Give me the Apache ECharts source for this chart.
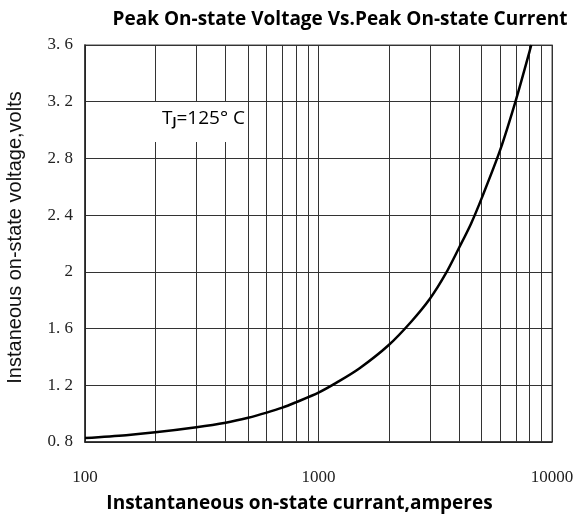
<!DOCTYPE html>
<html>
<head>
<meta charset="utf-8">
<script src="https://cdn.jsdelivr.net/npm/echarts@6/dist/echarts.min.js"></script>
<style>
  html, body { margin: 0; padding: 0; background: #fff; }
  #chart { width: 579px; height: 517px; }
</style>
</head>
<body>
<div id="chart"></div>
<script>
// current (A) vs peak on-state voltage (V)
const current = [100, 150, 200, 300, 400, 500, 600, 700, 800, 1000, 1200, 1500, 2000, 2500, 3000, 3500, 4000, 4500, 5000, 6000, 7000, 8000, 8150]
const voltage = [0.828, 0.848, 0.868, 0.904, 0.936, 0.971, 1.007, 1.042, 1.08, 1.148, 1.22, 1.32, 1.484, 1.65, 1.81, 1.985, 2.17, 2.34, 2.52, 2.86, 3.21, 3.55, 3.6]
// minor vertical grid lines of the log axis
const minorX = [200, 300, 400, 500, 600, 700, 800, 900, 2000, 3000, 4000, 5000, 6000, 7000, 8000, 9000]
const yTicks = [0.8, 1.2, 1.6, 2, 2.4, 2.8, 3.2, 3.6]

const chart = echarts.init(document.getElementById('chart'))

const points = current.map((c, i) => [c, voltage[i]])

chart.setOption({
  animation: false,
  title: {
    text: 'Peak On-state Voltage Vs.Peak On-state Current',
    left: 335,
    textAlign: 'center',
    top: 5,
    textStyle: {fontFamily: 'Open Sans', fontSize: 19, fontWeight: 'bold', color: '#000'}
  },
  grid: {
    left: 85, right: 27, top: 45, bottom: 75,
    outerBoundsMode: 'none',
    containLabel: false,
    show: true, borderColor: '#888', borderWidth: 1.5
  },
  xAxis: {
    type: 'log',
    logBase: 10,
    min: 100,
    max: 10000,
    name: 'Instantaneous on-state currant,amperes',
    nameLocation: 'middle',
    nameGap: 52,
    nameTextStyle: {fontFamily: 'Open Sans', fontSize: 19, fontWeight: 'bold', color: '#000', padding: [0, 38, 0, 0]},
    axisLine: {lineStyle: {color: '#222', width: 1.5}},
    axisTick: {show: false},
    axisLabel: {
      margin: 27,
      fontFamily: 'Liberation Serif',
      fontSize: 17,
      color: '#222',
      formatter: v => String(Math.round(v))
    },
    splitLine: {show: true, lineStyle: {color: '#333', width: 1}}
  },
  yAxis: {
    type: 'value',
    min: 0.8,
    max: 3.6,
    interval: 0.4,
    name: 'Instaneous on-state voltage,volts',
    nameLocation: 'middle',
    nameGap: 60,
    nameTextStyle: {fontFamily: 'Liberation Sans', fontSize: 20, color: '#111', padding: [0, 0, 0, 12]},
    axisLine: {show: true, lineStyle: {color: '#222', width: 1.5}},
    axisTick: {show: false},
    axisLabel: {
      margin: 12,
      fontFamily: 'Liberation Serif',
      fontSize: 17,
      color: '#222',
      formatter: v => {
        const t = yTicks.find(k => Math.abs(k - v) < 1e-6)
        return String(t === undefined ? v : t).replace('.', '.\u00a0')
      }
    },
    splitLine: {show: true, lineStyle: {color: '#333', width: 1}}
  },
  series: [
    {
      type: 'line',
      data: points,
      smooth: 0.3,
      showSymbol: false,
      lineStyle: {color: '#000', width: 2.5},
      z: 5,
      markLine: {
        silent: true,
        symbol: 'none',
        label: {show: false},
        lineStyle: {color: '#333', width: 1, type: 'solid'},
        data: minorX.map(x => ({xAxis: x}))
      }
    }
  ],
  graphic: [
    {
      type: 'rect',
      left: 150, top: 102,
      shape: {width: 97, height: 40},
      style: {fill: '#fff'},
      z: 10
    },
    {
      type: 'text',
      left: 162, top: 109,
      z: 11,
      style: {
        text: 'T{s|J}=125° C',
        fontFamily: 'Open Sans',
        fontSize: 19,
        fill: '#000',
        rich: {s: {fontFamily: 'Open Sans', fontSize: 12, fontWeight: 'bold', verticalAlign: 'bottom', padding: [9, 0, 0, 0]}}
      }
    }
  ]
})
</script>
</body>
</html>
